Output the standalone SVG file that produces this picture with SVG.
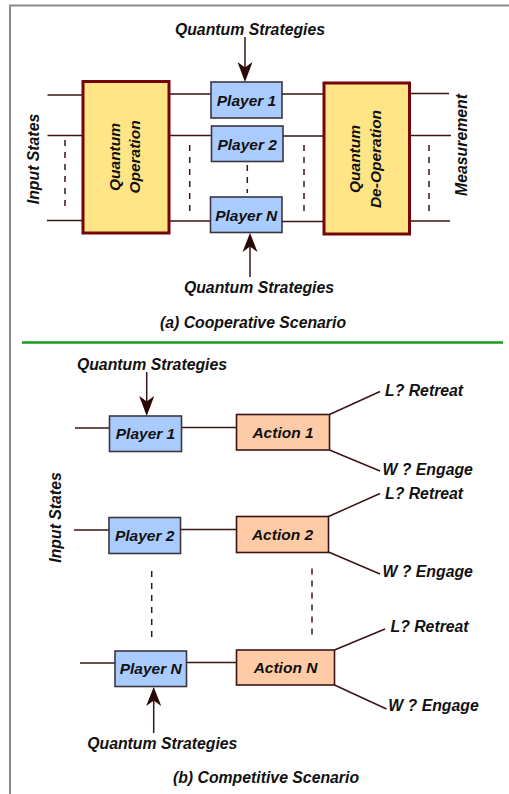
<svg xmlns="http://www.w3.org/2000/svg" width="509" height="794" viewBox="0 0 509 794">
<style>
  text{font-family:"Liberation Sans",Arial,sans-serif;font-weight:bold;font-style:italic;fill:#111;}
  .lbl{font-size:15.8px;}
  .box{font-size:15.5px;}
  .player{fill:#aacbfd;stroke:#3c3540;stroke-width:1.6;}
  .action{fill:#ffcba6;stroke:#3a1414;stroke-width:1.6;}
  .qop{fill:#ffe585;stroke:#760606;stroke-width:3;}
  .wire{stroke:#3a1414;stroke-width:1.5;fill:none;}
  .dash{stroke:#3a1414;stroke-width:1.5;stroke-dasharray:6,6;fill:none;}
  .head{fill:#2a0606;}
</style>
<rect x="0" y="0" width="509" height="794" fill="#ffffff"/>
<path d="M10 794 V5.5 H509" fill="none" stroke="#8a8a8a" stroke-width="2"/>
<line x1="22" y1="342.5" x2="503" y2="342.5" stroke="#1a9a1a" stroke-width="2.5"/>

<g id="connectors">
  <!-- top section wires -->
  <path class="wire" d="M47.5 95 H83 M169 94 H211 M282 94 H324 M409 93.5 H449"/>
  <path class="wire" d="M47.5 135.5 H83 M169 135.5 H211 M283 136 H324 M409 135.5 H451"/>
  <path class="wire" d="M47 220.5 H83 M169 221 H210 M282 221.5 H324 M409 221 H450"/>
  <path class="dash" d="M65 140 V207 M189.7 145 V212 M247.3 165 V193 M304 145 V212 M429 145 V211"/>
  <line class="wire" x1="245" y1="37" x2="245" y2="70"/>
  <path class="head" d="M245 82 L237.5 62 L245 67.5 L252.5 62 Z"/>
  <line class="wire" x1="250" y1="277" x2="250" y2="244"/>
  <path class="head" d="M250 233 L257.5 252 L250 246.5 L242.5 252 Z"/>
  <!-- bottom section -->
  <path class="wire" d="M75 428 H109 M181 427.5 H236"/>
  <path class="wire" d="M74 530 H109 M180 529.5 H236"/>
  <path class="wire" d="M80 663 H115 M187 662.5 H236"/>
  <path class="wire" d="M329.5 414.5 L380 391.5 M329.5 450 L380 471"/>
  <path class="wire" d="M328.5 516.5 L380 493.5 M328.5 552 L380 574"/>
  <path class="wire" d="M334.5 650 L385 629 M334.5 685 L386.5 709"/>
  <path class="dash" d="M151.7 571 V637 M312 568.5 V635"/>
  <line class="wire" x1="146.7" y1="372" x2="146.7" y2="404"/>
  <path class="head" d="M146.7 416 L139.2 396 L146.7 401.5 L154.2 396 Z"/>
  <line class="wire" x1="153.7" y1="733" x2="153.7" y2="698"/>
  <path class="head" d="M153.7 687 L161.2 706 L153.7 700.5 L146.2 706 Z"/>
</g>

<g id="qop">
  <rect class="qop" x="83" y="81.5" width="86" height="151.5"/>
  <text class="box" transform="translate(120,157) rotate(-90)" text-anchor="middle">Quantum</text>
  <text class="box" transform="translate(140,157) rotate(-90)" text-anchor="middle">Operation</text>
</g>
<g id="qdeop">
  <rect class="qop" x="324" y="83" width="85.5" height="151"/>
  <text class="box" transform="translate(360,159) rotate(-90)" text-anchor="middle">Quantum</text>
  <text class="box" transform="translate(380.5,159) rotate(-90)" text-anchor="middle">De-Operation</text>
</g>

<g id="a-player1"><rect class="player" x="211" y="82" width="71" height="36"/><text class="box" x="246.5" y="105.5" text-anchor="middle">Player 1</text></g>
<g id="a-player2"><rect class="player" x="211.5" y="126" width="71.5" height="35.5"/><text class="box" x="247.2" y="149.5" text-anchor="middle">Player 2</text></g>
<g id="a-playerN"><rect class="player" x="210.5" y="197" width="71.5" height="35.5"/><text class="box" x="246.2" y="220.5" text-anchor="middle">Player N</text></g>

<g id="a-labels">
  <text class="lbl" x="250" y="34.5" text-anchor="middle">Quantum Strategies</text>
  <text class="lbl" x="259" y="292.5" text-anchor="middle">Quantum Strategies</text>
  <text class="lbl" x="253" y="327.5" text-anchor="middle">(a) Cooperative Scenario</text>
  <text class="lbl" transform="translate(38.5,159) rotate(-90)" text-anchor="middle">Input States</text>
  <text class="lbl" transform="translate(467,145) rotate(-90)" text-anchor="middle">Measurement</text>
</g>

<g id="b-player1"><rect class="player" x="109.5" y="416" width="72" height="35.5"/><text class="box" x="145.5" y="439" text-anchor="middle">Player 1</text></g>
<g id="b-player2"><rect class="player" x="109" y="517.5" width="71.5" height="36"/><text class="box" x="144.7" y="541" text-anchor="middle">Player 2</text></g>
<g id="b-playerN"><rect class="player" x="115" y="651" width="71.5" height="35.5"/><text class="box" x="150.7" y="674" text-anchor="middle">Player N</text></g>

<g id="b-action1"><rect class="action" x="236.5" y="414.5" width="93" height="35.5"/><text class="box" x="283" y="437.5" text-anchor="middle">Action 1</text></g>
<g id="b-action2"><rect class="action" x="236.5" y="516.5" width="92" height="36"/><text class="box" x="282.5" y="540" text-anchor="middle">Action 2</text></g>
<g id="b-actionN"><rect class="action" x="236.5" y="650" width="98" height="35"/><text class="box" x="285.5" y="673" text-anchor="middle">Action N</text></g>

<g id="b-labels">
  <text class="lbl" x="385" y="396">L? Retreat</text>
  <text class="lbl" x="382.5" y="474.5">W ? Engage</text>
  <text class="lbl" x="385" y="498.5">L? Retreat</text>
  <text class="lbl" x="382.5" y="577">W ? Engage</text>
  <text class="lbl" x="390.5" y="631.5">L? Retreat</text>
  <text class="lbl" x="388.3" y="710.5">W ? Engage</text>
  <text class="lbl" x="152" y="369.5" text-anchor="middle">Quantum Strategies</text>
  <text class="lbl" x="162.3" y="748.5" text-anchor="middle">Quantum Strategies</text>
  <text class="lbl" x="266" y="783" text-anchor="middle">(b) Competitive Scenario</text>
  <text class="lbl" transform="translate(60.5,517.5) rotate(-90)" text-anchor="middle">Input States</text>
</g>
</svg>
